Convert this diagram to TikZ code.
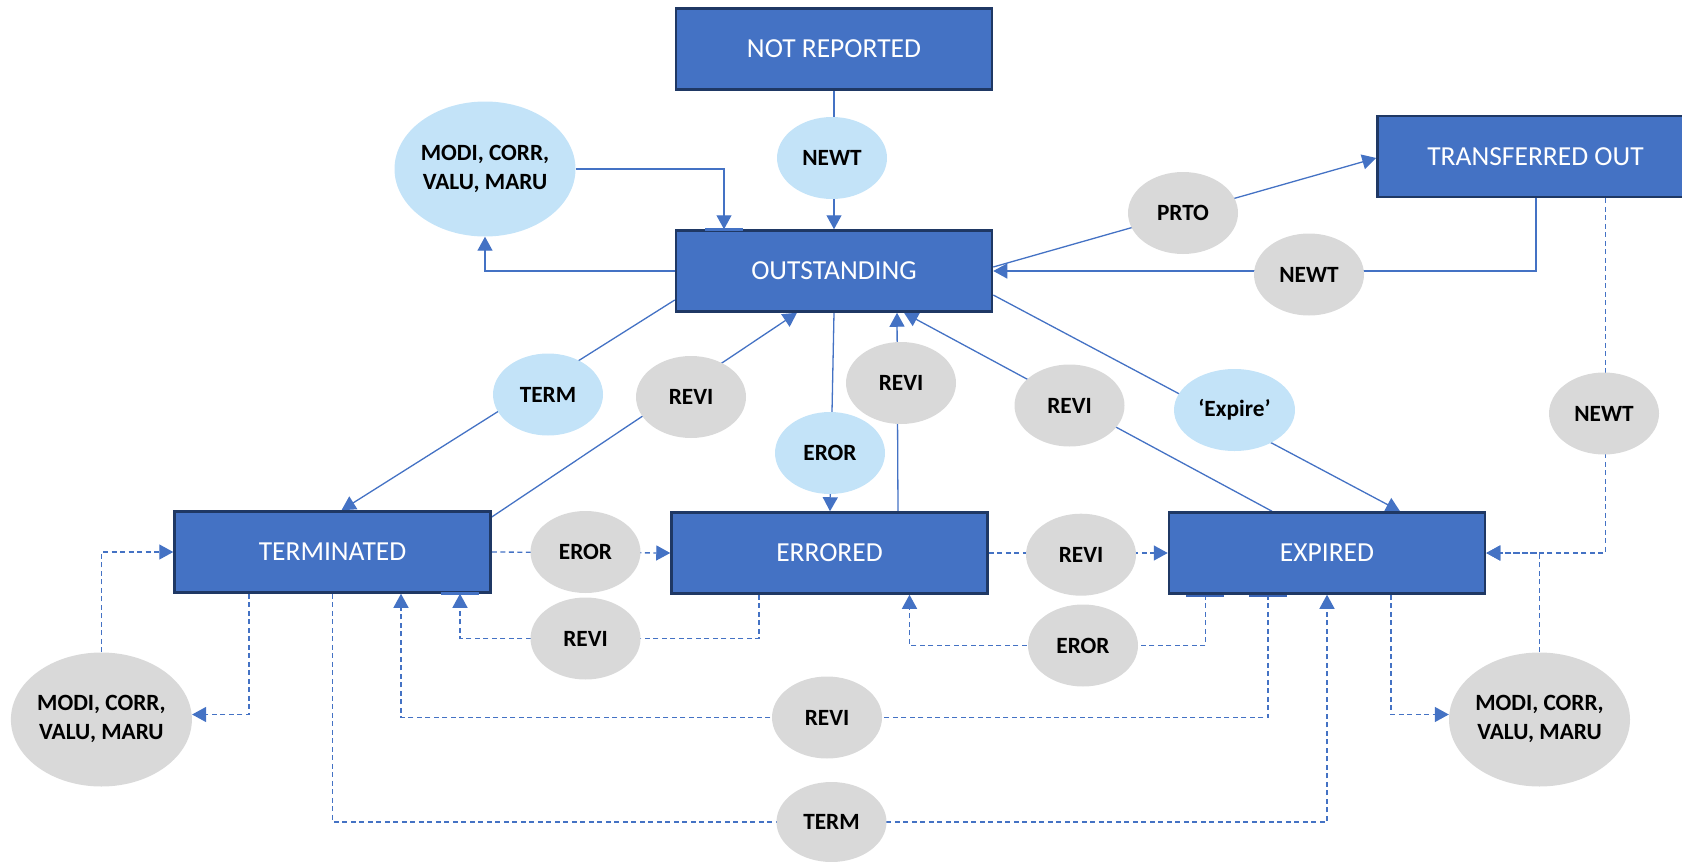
\documentclass[tikz,border=0pt]{standalone}
\usepackage{fontspec}
\setmainfont{Carlito}
\usetikzlibrary{shapes.geometric,arrows.meta,backgrounds}
\definecolor{boxfill}{HTML}{4472C4}
\definecolor{boxline}{HTML}{1F3864}
\definecolor{conn}{HTML}{4472C4}
\definecolor{lblue}{HTML}{C3E3F8}
\definecolor{lgray}{HTML}{D9D9D9}
\definecolor{segblue}{HTML}{3B66B8}
\begin{document}
\begin{tikzpicture}[x=1pt,y=-1pt,
  state/.style={rectangle, fill=boxfill, draw=boxline, line width=2.5pt,
    minimum width=316pt, minimum height=81pt, inner sep=0pt, text=white,
    font=\fontsize{27.5}{33}\selectfont},
  evA/.style={ellipse, fill=lblue, inner sep=0pt, minimum width=110pt,
    minimum height=82pt, font=\bfseries\fontsize{23.3}{28.7}\selectfont},
  evG/.style={evA, fill=lgray},
  arr/.style={draw=conn, line width=1.3pt, -{Triangle[length=14pt,width=15pt]}},
  darr/.style={arr, dash pattern=on 5pt off 3.5pt},
  plain/.style={draw=conn, line width=1.3pt},
  gapline/.style={draw=boxfill, line width=2.7pt},
  segline/.style={draw=segblue, line width=2pt}
]
\useasboundingbox (0,0) rectangle (1682,862);

% states
\node[state] (nr)  at (834,49)    {NOT REPORTED};
\node[state] (out) at (834,271)   {OUTSTANDING};
\node[state] (to)  at (1535.5,156.5) {TRANSFERRED OUT};
\node[state] (term) at (332.5,552) {TERMINATED};
\node[state] (err) at (829.5,553) {ERRORED};
\node[state] (exp) at (1327,553)  {EXPIRED};

% events
\node[evA, minimum width=181pt, minimum height=135pt] (modiA) at (485,169)
  {\makebox[0pt]{\begin{tabular}{@{}c@{}}MODI, CORR,\\ VALU, MARU\end{tabular}}};
\node[evA] (newtA) at (832,158) {NEWT};
\node[evG] (prto) at (1183,213) {PRTO};
\node[evG] (newtB) at (1309,274.5) {NEWT};
\node[evG] (revi4) at (1069.5,405.5) {REVI};
\node[evA, minimum width=121pt] (expire) at (1234.5,410) {‘Expire’};
\node[evG] (newtC) at (1604,413.5) {NEWT};
\node[evA] (termA) at (548,394.5) {TERM};
\node[evG] (revi1) at (691,397) {REVI};
\node[evA] (erorA) at (830,453) {EROR};
\node[evG] (revi2) at (901,383) {REVI};
\node[evG] (erorB) at (585.5,552) {EROR};
\node[evG] (revi3) at (1081,554.7) {REVI};
\node[evG] (revi5) at (585.5,638.5) {REVI};
\node[evG] (erorC) at (1083,645.5) {EROR};
\node[evG] (revi6) at (827,717.5) {REVI};
\node[evG, minimum height=80pt] (termB) at (831.5,822) {TERM};
\node[evG, minimum width=181pt, minimum height=134pt] (modiB) at (101.4,719.5)
  {\makebox[0pt]{\begin{tabular}{@{}c@{}}MODI, CORR,\\ VALU, MARU\end{tabular}}};
\node[evG, minimum width=181pt, minimum height=134pt] (modiC) at (1539.5,719.5)
  {\makebox[0pt]{\begin{tabular}{@{}c@{}}MODI, CORR,\\ VALU, MARU\end{tabular}}};

\begin{scope}[on background layer]
  % solid connectors
  \draw[arr] (nr.south) -- (out.north);
  \draw[arr] (modiA.east) -| ([xshift=-110pt]out.north);
  \draw[arr] (out.west) -| (modiA.south);
  \draw[arr] ([yshift=4pt]out.east) -- ([yshift=-1.5pt]to.west);
  \draw[arr] ([xshift=0.5pt]to.south) |- (out.east);
  \draw[arr] ([yshift=-24pt]out.east) -- ([xshift=73pt]exp.north);
  \draw[arr] ([xshift=-55pt]exp.north) -- ([xshift=70pt]out.south);
  \draw[arr] ([xshift=68.5pt]err.north) -- ([xshift=63pt]out.south);
  \draw[arr] (out.south) -- ([xshift=0.5pt]err.north);
  \draw[arr] ([yshift=-29pt]out.west) -- ([xshift=9pt]term.north);
  \draw[arr] ([yshift=35pt]term.east) -- ([xshift=-37pt]out.south);
  % dashed connectors
  \draw[darr] ([xshift=70pt]to.south) |- (exp.east);
  \draw[darr] (modiC.north) |- (exp.east);
  \draw[darr] ([xshift=64pt]exp.south) |- ([yshift=5pt]modiC.west);
  \draw[darr] ([xshift=-83.5pt]term.south) |- ([yshift=5pt]modiB.east);
  \draw[darr] (modiB.north) |- (term.west);
  \draw[darr] (term.east) -- (err.west);
  \draw[darr] (err.east) -- (exp.west);
  \draw[darr] ([xshift=-70.5pt]err.south) |- (revi5.center) -| ([xshift=127.5pt]term.south);
  \draw[darr] ([xshift=-121.5pt]exp.south) |- (erorC.center) -| ([xshift=80pt]err.south);
  \draw[darr] ([xshift=-59pt]exp.south) |- (revi6.center) -| ([xshift=68.5pt]term.south);
  \draw[darr] (term.south) |- (termB.center) -| (exp.south);
\end{scope}

% small border marks where connectors meet the boxes
\draw[gapline] ([xshift=-129pt]out.north) -- ([xshift=-91pt]out.north);
\draw[gapline] ([xshift=108pt]term.south) -- ([xshift=146pt]term.south);
\draw[segline] ([xshift=-141pt,yshift=-1.5pt]exp.south) -- ([xshift=-103pt,yshift=-1.5pt]exp.south);
\draw[segline] ([xshift=-78pt,yshift=-1.5pt]exp.south) -- ([xshift=-40pt,yshift=-1.5pt]exp.south);
\end{tikzpicture}
\end{document}
